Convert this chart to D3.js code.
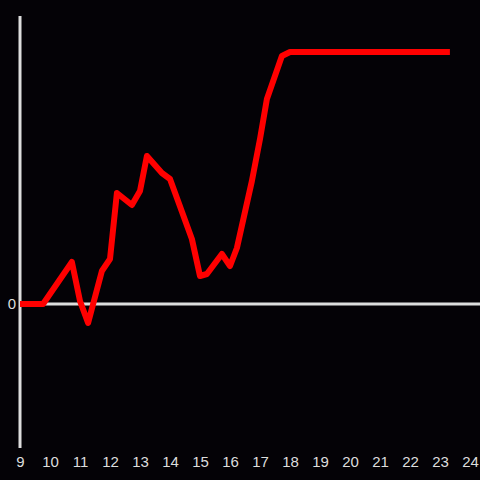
<!DOCTYPE html>
<html>
<head>
<meta charset="utf-8">
<script src="https://cdn.jsdelivr.net/npm/d3@7"></script>
<style>
  html, body { margin: 0; padding: 0; background: #040206; }
  svg { display: block; }
</style>
</head>
<body>
<div id="chart"></div>
<script>
// data
var hours = [9, 9.77, 10.73, 11, 11.27, 11.73, 12, 12.23, 12.73, 13, 13.23, 13.73, 14,
  14.73, 15, 15.23, 15.73, 16, 16.23, 16.73, 17, 17.23, 17.73, 18, 23.33];
var values = [0, 0, 42, 3, -19, 33, 45, 111, 99, 113, 148, 131, 125,
  65, 28, 30, 50, 38, 56, 123, 165, 205, 248, 252, 252];
var x_ticks = d3.range(9, 25);

var svg_w = 480;
var svg_h = 480;
var axis_col = "#dddddd";

var svg = d3.select("#chart")
  .append("svg")
  .attr("width", svg_w)
  .attr("height", svg_h);

svg.append("rect")
  .attr("width", svg_w)
  .attr("height", svg_h)
  .attr("fill", "#040206");

var x = d3.scaleLinear()
  .domain([9, 24])
  .range([20, 470]);

var y = d3.scaleLinear()
  .domain([-144, 288])
  .range([448, 16]);

// x labels
var x_axis = svg.append("g")
  .attr("transform", "translate(0,448)")
  .call(d3.axisBottom(x).tickValues(x_ticks).tickSize(0).tickPadding(8).tickFormat(d3.format("d")));
x_axis.select(".domain").remove();
x_axis.selectAll("text")
  .attr("fill", axis_col)
  .style("font-family", "Liberation Sans, Arial, sans-serif")
  .style("font-size", "15px");

// y label (only zero)
var y_axis = svg.append("g")
  .attr("transform", "translate(20,0)")
  .call(d3.axisLeft(y).tickValues([0]).tickSize(0).tickPadding(4));
y_axis.select(".domain").remove();
y_axis.selectAll("text")
  .attr("fill", axis_col)
  .style("font-family", "Liberation Sans, Arial, sans-serif")
  .style("font-size", "15px");

// axis lines
svg.append("line")
  .attr("x1", x(9)).attr("x2", x(9))
  .attr("y1", y(288)).attr("y2", y(-144))
  .attr("stroke", axis_col)
  .attr("stroke-width", 3);

svg.append("line")
  .attr("x1", x(9)).attr("x2", svg_w)
  .attr("y1", y(0)).attr("y2", y(0))
  .attr("stroke", axis_col)
  .attr("stroke-width", 3);

// the red line
var line = d3.line()
  .x(function(d, i) { return x(hours[i]); })
  .y(function(d) { return y(d); });

svg.append("path")
  .datum(values)
  .attr("d", line)
  .attr("fill", "none")
  .attr("stroke", "#ff0000")
  .attr("stroke-width", 6)
  .attr("stroke-linejoin", "round");
</script>
</body>
</html>
